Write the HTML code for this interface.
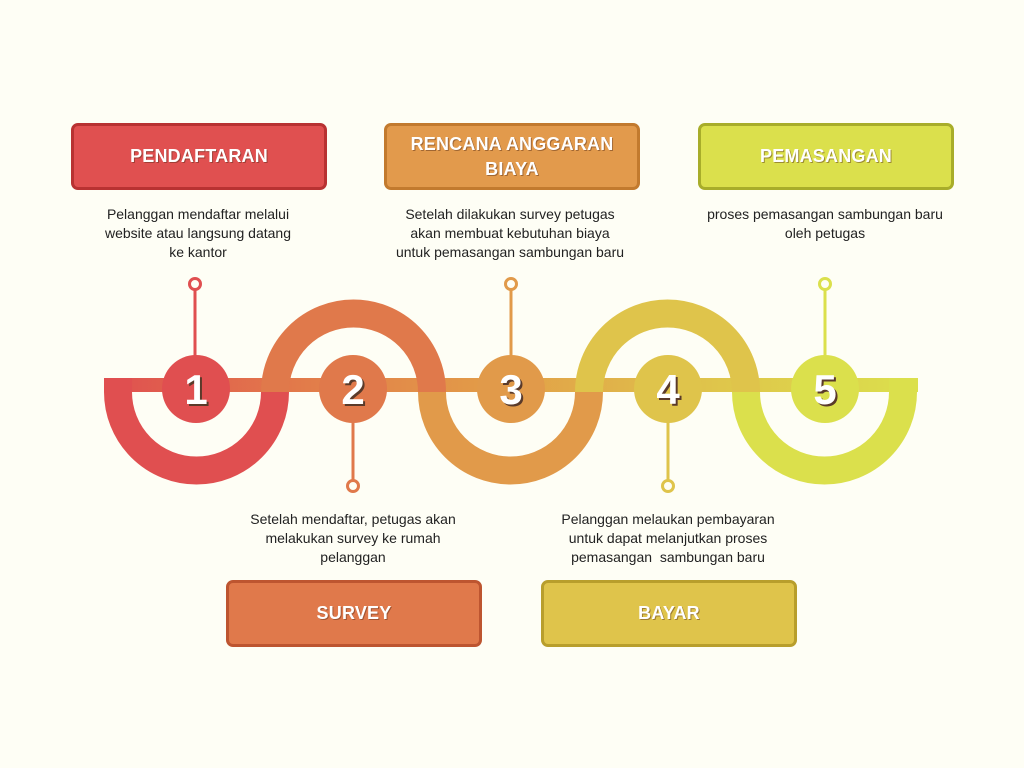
<!DOCTYPE html>
<html><head><meta charset="utf-8"><style>
html,body{margin:0;padding:0;background:#fefef5;}
body{width:1024px;height:768px;position:relative;overflow:hidden;font-family:"Liberation Sans",sans-serif;}
.box{position:absolute;width:250px;height:61px;border-radius:7px;border:3px solid;box-sizing:content-box;color:#fff;font-weight:bold;font-size:18px;display:flex;align-items:center;justify-content:center;text-align:center;line-height:25px;text-shadow:1px 1px 0 rgba(80,40,20,.45);letter-spacing:.2px}
.t{position:absolute;width:280px;text-align:center;font-size:14px;line-height:19px;color:#222;}
</style></head><body>
<svg width="1024" height="768" style="position:absolute;left:0;top:0">
<defs><linearGradient id="g" x1="104" x2="918" gradientUnits="userSpaceOnUse">
<stop offset="0" stop-color="#e04f50"/><stop offset="0.25" stop-color="#e27c4a"/><stop offset="0.5" stop-color="#e2a048"/><stop offset="0.75" stop-color="#dfc54b"/><stop offset="1" stop-color="#dbe04c"/></linearGradient></defs>
<rect x="104" y="378" width="814" height="14" fill="url(#g)"/>
<g fill="none" stroke-width="28">
<path d="M118,378 V392 A78.5,78.5 0 0 0 275,392" stroke="#e04f50"/>
<path d="M275,392 A78.5,78.5 0 0 1 432,392" stroke="#e0794b"/>
<path d="M432,392 A78.5,78.5 0 0 0 589,392" stroke="#e19a4a"/>
<path d="M589,392 A78.5,78.5 0 0 1 746,392" stroke="#dfc44b"/>
<path d="M746,392 A78.5,78.5 0 0 0 903,392 V378" stroke="#dbe04c"/>
</g>
<g stroke-width="3" fill="#fefef5">
<line x1="195" y1="290" x2="195" y2="360" stroke="#e04f50"/><circle cx="195" cy="284" r="5.5" stroke="#e04f50"/>
<line x1="353" y1="420" x2="353" y2="480" stroke="#e0794b"/><circle cx="353" cy="486" r="5.5" stroke="#e0794b"/>
<line x1="511" y1="290" x2="511" y2="360" stroke="#e19a4a"/><circle cx="511" cy="284" r="5.5" stroke="#e19a4a"/>
<line x1="668" y1="420" x2="668" y2="480" stroke="#dfc44b"/><circle cx="668" cy="486" r="5.5" stroke="#dfc44b"/>
<line x1="825" y1="290" x2="825" y2="360" stroke="#dbe04c"/><circle cx="825" cy="284" r="5.5" stroke="#dbe04c"/>
</g>
<circle cx="196" cy="389" r="34" fill="#e04f50"/>
<circle cx="353" cy="389" r="34" fill="#e0794b"/>
<circle cx="511" cy="389" r="34" fill="#e19a4a"/>
<circle cx="668" cy="389" r="34" fill="#dfc44b"/>
<circle cx="825" cy="389" r="34" fill="#dbe04c"/>
<g font-family="Liberation Sans, sans-serif" font-weight="bold" font-size="42" text-anchor="middle">
<g fill="#5a3a2a"><text x="198" y="406">1</text><text x="355" y="406">2</text><text x="513" y="406">3</text><text x="670" y="406">4</text><text x="827" y="406">5</text></g>
<g fill="#fff"><text x="196" y="404">1</text><text x="353" y="404">2</text><text x="511" y="404">3</text><text x="668" y="404">4</text><text x="825" y="404">5</text></g>
</g>
</svg>
<div class="box" style="left:71px;top:123px;background:#e05050;border-color:#b83232">PENDAFTARAN</div>
<div class="box" style="left:384px;top:123px;background:#e29a4c;border-color:#c27a2e">RENCANA ANGGARAN<br>BIAYA</div>
<div class="box" style="left:698px;top:123px;background:#dbe04c;border-color:#a8ad2a">PEMASANGAN</div>
<div class="box" style="left:226px;top:580px;background:#e0794b;border-color:#bd5530">SURVEY</div>
<div class="box" style="left:541px;top:580px;background:#dfc44b;border-color:#b89e2c">BAYAR</div>
<div class="t" style="left:58px;top:205px">Pelanggan mendaftar melalui<br>website atau langsung datang<br>ke kantor</div>
<div class="t" style="left:370px;top:205px">Setelah dilakukan survey petugas<br>akan membuat kebutuhan biaya<br>untuk pemasangan sambungan baru</div>
<div class="t" style="left:685px;top:205px">proses pemasangan sambungan baru<br>oleh petugas</div>
<div class="t" style="left:213px;top:510px">Setelah mendaftar, petugas akan<br>melakukan survey ke rumah<br>pelanggan</div>
<div class="t" style="left:528px;top:510px">Pelanggan melaukan pembayaran<br>untuk dapat melanjutkan proses<br>pemasangan&nbsp; sambungan baru</div>
</body></html>
